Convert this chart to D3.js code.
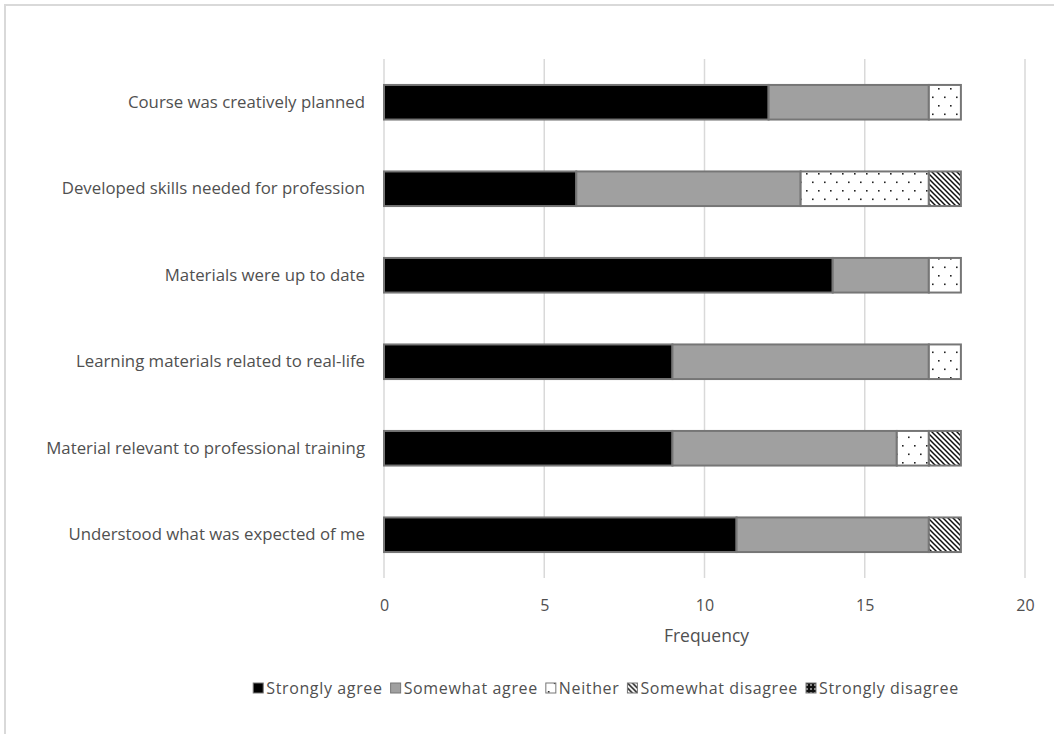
<!DOCTYPE html>
<html><head><meta charset="utf-8">
<script src="https://cdn.jsdelivr.net/npm/d3@7"></script>
<style>body{margin:0;background:#fff}svg{display:block}</style>
</head><body><svg id="c" width="1054" height="734"></svg>
<script>
const categories = ["Course was creatively planned","Developed skills needed for profession","Materials were up to date","Learning materials related to real-life","Material relevant to professional training","Understood what was expected of me"];
const seriesNames = ["Strongly agree","Somewhat agree","Neither","Somewhat disagree","Strongly disagree"];
const stronglyAgree =    [12, 6, 14, 9, 9, 11];
const somewhatAgree =    [5, 7, 3, 8, 7, 6];
const neither =          [1, 4, 1, 1, 1, 0];
const somewhatDisagree = [0, 1, 0, 0, 1, 1];
const stronglyDisagree = [0, 0, 0, 0, 0, 0];
const xTicks = [0,5,10,15,20];
const xTitle = "Frequency";

const svg = d3.select("#c");
const font = "'Open Sans', 'Liberation Sans', Arial, sans-serif";
const textCol = "#505050";

// patterns
const defs = svg.append("defs");
const dots = defs.append("pattern").attr("id","dots").attr("patternUnits","userSpaceOnUse").attr("width",12).attr("height",17);
dots.append("rect").attr("width",12).attr("height",17).attr("fill","#fff");
dots.append("rect").attr("x",2).attr("y",3).attr("width",1.6).attr("height",1.6).attr("fill","#222");
dots.append("rect").attr("x",8).attr("y",11.5).attr("width",1.6).attr("height",1.6).attr("fill","#222");
const hatch = defs.append("pattern").attr("id","hatch").attr("patternUnits","userSpaceOnUse").attr("width",5).attr("height",5);
hatch.append("rect").attr("width",5).attr("height",5).attr("fill","#fff");
hatch.append("path").attr("d","M-1,-1 L6,6 M-1,4 L1,6 M4,-1 L6,1").attr("stroke","#111").attr("stroke-width",1.5);
const check = defs.append("pattern").attr("id","check").attr("patternUnits","userSpaceOnUse").attr("width",4).attr("height",4);
check.append("rect").attr("width",4).attr("height",4).attr("fill","#111");
check.append("rect").attr("x",0).attr("y",0).attr("width",2).attr("height",2).attr("fill","#888");
const fills = ["#000","#a0a0a0","url(#dots)","url(#hatch)","url(#check)"];

// outer border
svg.append("path").attr("d","M5,734 L5,5 L1054,5").attr("fill","none").attr("stroke","#d9d9d9").attr("stroke-width",2);

const m = {left:384, right:1025, top:59, bottom:578};
const x = d3.scaleLinear().domain([0,20]).range([m.left,m.right]);
const y = d3.scaleBand().domain(categories).range([m.top,m.bottom]).paddingInner(0.6).paddingOuter(0.3);

// gridlines
svg.append("g").selectAll("line").data(xTicks).join("line")
  .attr("x1",d=>x(d)).attr("x2",d=>x(d)).attr("y1",m.top).attr("y2",m.bottom)
  .attr("stroke","#d9d9d9").attr("stroke-width",1.5);

// stack
const rows = categories.map((c,i)=>({cat:c,"Strongly agree":stronglyAgree[i],"Somewhat agree":somewhatAgree[i],"Neither":neither[i],"Somewhat disagree":somewhatDisagree[i],"Strongly disagree":stronglyDisagree[i]}));
const stacked = d3.stack().keys(seriesNames)(rows);
svg.append("g").selectAll("g").data(stacked).join("g")
  .attr("fill",(d,i)=>fills[i])
  .selectAll("rect").data(d=>d.filter(s=>s[1]-s[0]>0)).join("rect")
  .attr("x",d=>x(d[0])).attr("width",d=>x(d[1])-x(d[0]))
  .attr("y",d=>y(d.data.cat)).attr("height",y.bandwidth())
  .attr("stroke","#767676").attr("stroke-width",2);

// x axis labels
const xa = svg.append("g").attr("transform",`translate(0,${m.bottom})`)
  .call(d3.axisBottom(x).tickValues(xTicks).tickSize(0).tickPadding(22));
xa.select(".domain").remove();
xa.selectAll("text").attr("font-family",font).attr("font-size",16).attr("fill",textCol);

svg.append("text").attr("x",(m.left+m.right)/2 + 2).attr("y",642).attr("text-anchor","middle")
  .attr("font-family",font).attr("font-size",17.5).attr("fill",textCol).text(xTitle);

// y axis labels
const ya = svg.append("g").attr("transform",`translate(${m.left},0)`)
  .call(d3.axisLeft(y).tickSize(0).tickPadding(19));
ya.select(".domain").remove();
ya.selectAll("text").attr("font-family",font).attr("font-size",16.8).attr("fill",textCol);

// legend
const leg = svg.append("g");
let lx = 0;
seriesNames.forEach((n,i)=>{
  const g = leg.append("g");
  g.append("rect").attr("x",0).attr("y",-5).attr("width",10).attr("height",10).attr("fill",fills[i]).attr("stroke","#767676").attr("stroke-width",1);
  const t = g.append("text").attr("x",13).attr("y",5.5).attr("font-family",font).attr("font-size",16).attr("letter-spacing",0.64).attr("fill",textCol).text(n);
  const w = 13 + t.node().getComputedTextLength();
  g.attr("transform",`translate(${lx},0)`);
  lx += w + 8;
});
const total = lx - 8;
leg.attr("transform",`translate(${606 - total/2},688)`);
</script></body></html>
